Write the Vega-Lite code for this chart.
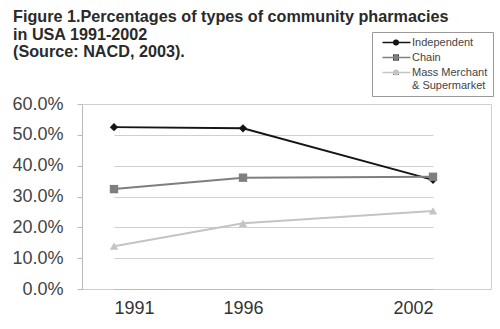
{
  "$schema": "https://vega.github.io/schema/vega-lite/v6.json",
  "width": 409,
  "height": 185,
  "autosize": "none",
  "padding": {"left": 82, "top": 104, "right": 9, "bottom": 40},
  "background": "white",
  "title": {
    "text": ["Figure 1.Percentages of types of community pharmacies", "in USA 1991-2002", "(Source: NACD, 2003)."],
    "anchor": "start",
    "frame": "group",
    "dx": -69,
    "offset": -29,
    "font": "Liberation Sans",
    "fontSize": 16.2,
    "fontWeight": "bold",
    "color": "#2a2a2a",
    "lineHeight": 17.5
  },
  "config": {
    "view": {"stroke": "#cfcfcf", "strokeWidth": 1},
    "font": "Liberation Sans"
  },
  "data": {
    "values": [
      {"year": 1991, "type": "Independent", "marker": "Independent", "pct": 0.525},
      {"year": 1996, "type": "Independent", "marker": "Independent", "pct": 0.521},
      {"year": 2002, "type": "Independent", "marker": "Independent", "pct": 0.354},
      {"year": 1991, "type": "Chain", "marker": "Chain", "pct": 0.324},
      {"year": 1996, "type": "Chain", "marker": "Chain", "pct": 0.361},
      {"year": 2002, "type": "Chain", "marker": "Chain", "pct": 0.364},
      {"year": 1991, "type": "Mass Merchant & Supermarket", "marker": "Mass Merchant & Supermarket", "pct": 0.139},
      {"year": 1996, "type": "Mass Merchant & Supermarket", "marker": "Mass Merchant & Supermarket", "pct": 0.213},
      {"year": 2002, "type": "Mass Merchant & Supermarket", "marker": "Mass Merchant & Supermarket", "pct": 0.253}
    ]
  },
  "encoding": {
    "x": {
      "field": "year", "type": "quantitative",
      "scale": {"domain": [1991, 1996, 2002], "range": [32, 161, 351], "clamp": false, "zero": false, "nice": false},
      "axis": {"title": null, "values": [1991, 1996, 2002], "format": "d", "labelFontSize": 18, "labelColor": "#333", "labelPadding": 10, "domainColor": "#bbb", "ticks": false, "grid": false}
    },
    "y": {
      "field": "pct", "type": "quantitative",
      "scale": {"domain": [0, 0.6]},
      "axis": {"title": null, "format": ".1%", "values": [0, 0.1, 0.2, 0.3, 0.4, 0.5, 0.6], "labelFontSize": 18, "labelColor": "#444", "labelPadding": 14, "tickSize": 5, "tickColor": "#bbb", "domainColor": "#bbb", "gridColor": "#cfcfcf"}
    }
  },
  "layer": [
    {
      "mark": {"type": "line", "strokeWidth": 2},
      "encoding": {
        "color": {
          "field": "type", "type": "nominal",
          "scale": {"domain": ["Independent", "Chain", "Mass Merchant & Supermarket"], "range": ["#151515", "#7f7f7f", "#c4c4c4"]},
          "legend": {
            "title": null, "orient": "none", "legendX": 290, "legendY": -72,
            "strokeColor": "#999", "padding": 5, "labelFontSize": 11, "labelColor": "#444",
            "symbolType": "M0,0H8", "symbolSize": 49, "symbolStrokeWidth": 1.5, "labelOffset": 24,
            "labelExpr": "datum.label == 'Mass Merchant & Supermarket' ? ['Mass Merchant', '& Supermarket'] : datum.label",
            "rowPadding": 3
          }
        }
      }
    },
    {
      "mark": {"type": "point", "filled": true, "size": 70, "opacity": 1},
      "encoding": {
        "fill": {
          "field": "marker", "type": "nominal",
          "sort": ["Independent", "Chain", "Mass Merchant & Supermarket"],
          "scale": {"range": ["#151515", "#7f7f7f", "#c4c4c4"]},
          "legend": {
            "title": null, "orient": "none", "legendX": 303.5, "legendY": -72,
            "padding": 5, "labelFontSize": 11, "labelColor": "transparent", "labelOffset": 2,
            "symbolSize": 36, "symbolStrokeWidth": 0,
            "labelExpr": "datum.label == 'Mass Merchant & Supermarket' ? [' ', ' '] : ' '",
            "rowPadding": 3
          }
        },
        "shape": {
          "field": "marker", "type": "nominal",
          "sort": ["Independent", "Chain", "Mass Merchant & Supermarket"],
          "scale": {"range": ["diamond", "square", "triangle-up"]},
          "legend": {
            "title": null, "orient": "none", "legendX": 303.5, "legendY": -72,
            "padding": 5, "labelFontSize": 11, "labelColor": "transparent", "labelOffset": 2,
            "symbolSize": 36, "symbolStrokeWidth": 0,
            "labelExpr": "datum.label == 'Mass Merchant & Supermarket' ? [' ', ' '] : ' '",
            "rowPadding": 3
          }
        }
      }
    }
  ]
}
